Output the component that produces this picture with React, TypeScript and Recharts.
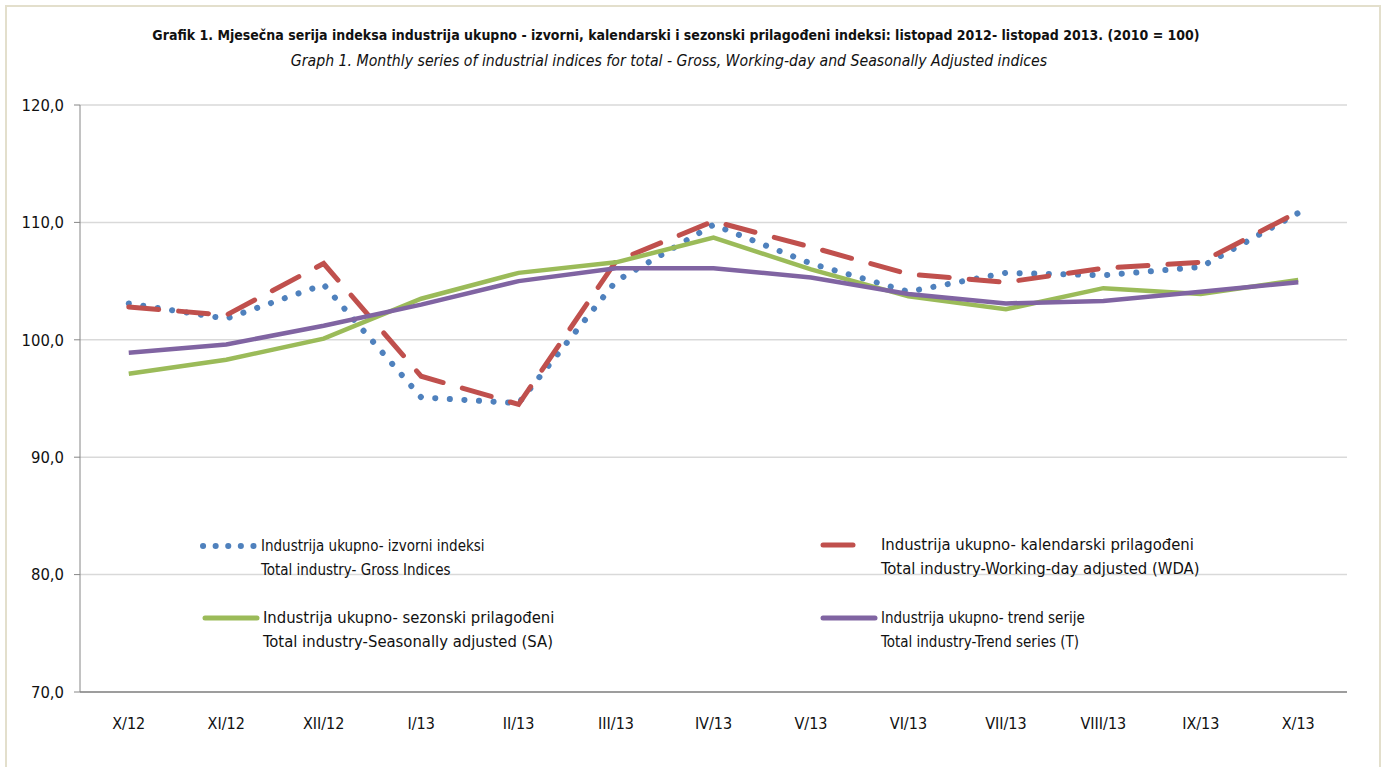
import React from 'react';
import { LineChart, Line, XAxis, YAxis, CartesianGrid } from 'recharts';

const categories = ['X/12', 'XI/12', 'XII/12', 'I/13', 'II/13', 'III/13', 'IV/13', 'V/13', 'VI/13', 'VII/13', 'VIII/13', 'IX/13', 'X/13'];
const gross = [103.1, 101.8, 104.7, 95.1, 94.6, 105.0, 109.8, 106.5, 104.1, 105.7, 105.5, 106.2, 110.8];
const wda = [102.8, 102.1, 106.5, 96.9, 94.5, 106.7, 110.1, 107.9, 105.6, 104.9, 106.1, 106.6, 110.9];
const sa = [97.1, 98.3, 100.1, 103.5, 105.7, 106.6, 108.7, 106.0, 103.7, 102.6, 104.4, 103.9, 105.1];
const trend = [98.9, 99.6, 101.2, 103.0, 105.0, 106.1, 106.1, 105.3, 103.9, 103.1, 103.3, 104.1, 104.9];
const yTicks = [70, 80, 90, 100, 110, 120];
const boundaryTicks = [0, 1, 2, 3, 4, 5, 6, 7, 8, 9, 10, 11, 12, 13];

const data = categories.map((name, i) => ({
  name,
  gross: gross[i],
  wda: wda[i],
  sa: sa[i],
  trend: trend[i],
}));

const FONT = '"Liberation Sans Narrow", "Arial Narrow", "DejaVu Sans Condensed", sans-serif';
const BLUE = '#4f81bd';
const RED = '#c0504d';
const GREEN = '#9bbb59';
const PURPLE = '#8064a2';
const AXIS = '#868686';

const fmt = (v: number) => v.toFixed(1).replace('.', ',');

// legend swatch + two text lines
function LegendItem({ left, top, color, dash, lines, size, width = 5 }: { left: number; top: number; color: string; dash: string; lines: string[]; size: number; width?: number }) {
  return (
    <div style={{ position: 'absolute', left, top, display: 'flex', alignItems: 'flex-start' }}>
      <svg width={62} height={20} style={{ marginTop: 2 }}>
        <line x1={4} y1={10} x2={56} y2={10} stroke={color} strokeWidth={width} strokeDasharray={dash} strokeLinecap="round" />
      </svg>
      <div style={{ fontFamily: FONT, fontSize: size, lineHeight: '24px', color: '#111', whiteSpace: 'nowrap' }}>
        {lines.map((l) => <div key={l}>{l}</div>)}
      </div>
    </div>
  );
}

export default function App() {
  return (
    <div style={{ position: 'absolute', left: 0, top: 0, width: 1391, height: 767, background: '#fff', overflow: 'hidden' }}>
      <div style={{ position: 'absolute', left: 5, top: 5, width: 1372, height: 790, border: '2px solid #e3dfcc' }} />
      <div style={{ position: 'absolute', left: 0, width: 1352, top: 27, textAlign: 'center', fontFamily: FONT, fontWeight: 'bold', fontSize: 14, color: '#111' }}>
        Grafik 1. Mjesečna serija indeksa industrija ukupno - izvorni, kalendarski i sezonski prilagođeni indeksi: listopad 2012- listopad 2013. (2010 = 100)
      </div>
      <div style={{ position: 'absolute', left: 0, width: 1338, top: 51, textAlign: 'center', fontFamily: FONT, fontStyle: 'italic', fontSize: 15.7, color: '#111' }}>
        Graph 1. Monthly series of industrial indices for total - Gross, Working-day and Seasonally Adjusted indices
      </div>
      <LineChart width={1391} height={767} data={data} margin={{ top: 105, right: 44, left: 20, bottom: 45 }}>
        <CartesianGrid vertical={false} stroke="#d9d9d9" strokeWidth={1.5} />
        <XAxis
          xAxisId="b"
          type="number"
          domain={[0, 13]}
          ticks={boundaryTicks}
          tick={false}
          tickSize={7}
          tickLine={{ stroke: AXIS }}
          axisLine={false}
          height={0}
        />
        <XAxis
          dataKey="name"
          padding={{ left: 48.75, right: 48.75 }}
          tickLine={false}
          axisLine={{ stroke: AXIS, strokeWidth: 1.5 }}
          tick={{ fontFamily: FONT, fontSize: 16, fill: '#111' }}
          tickMargin={20}
          height={30}
        />
        <YAxis
          domain={[70, 120]}
          ticks={yTicks}
          tickFormatter={fmt}
          width={60}
          tickSize={6}
          tickMargin={10}
          tickLine={{ stroke: AXIS }}
          axisLine={{ stroke: AXIS }}
          tick={{ fontFamily: FONT, fontSize: 16.5, fill: '#111' }}
        />
        <Line dataKey="gross" stroke={BLUE} strokeWidth={6} strokeDasharray="0.1 14.5" strokeLinecap="round" dot={false} isAnimationActive={false} />
        <Line dataKey="wda" stroke={RED} strokeWidth={5} strokeDasharray="30 20" strokeLinecap="round" dot={false} isAnimationActive={false} />
        <Line dataKey="sa" stroke={GREEN} strokeWidth={4.5} dot={false} isAnimationActive={false} />
        <Line dataKey="trend" stroke={PURPLE} strokeWidth={4.5} dot={false} isAnimationActive={false} />
      </LineChart>
      <LegendItem left={199} top={534} color={BLUE} dash="0.1 12.5" width={6} size={15} lines={['Industrija ukupno- izvorni indeksi', 'Total industry- Gross Indices']} />
      <LegendItem left={819} top={533} color={RED} dash="30 22" size={16.5} lines={['Industrija ukupno- kalendarski prilagođeni', 'Total industry-Working-day adjusted (WDA)']} />
      <LegendItem left={201} top={606} color={GREEN} dash="" size={16.5} lines={['Industrija ukupno- sezonski prilagođeni', 'Total industry-Seasonally adjusted (SA)']} />
      <LegendItem left={819} top={606} color={PURPLE} dash="" size={15} lines={['Industrija ukupno- trend serije', 'Total industry-Trend series (T)']} />
    </div>
  );
}
